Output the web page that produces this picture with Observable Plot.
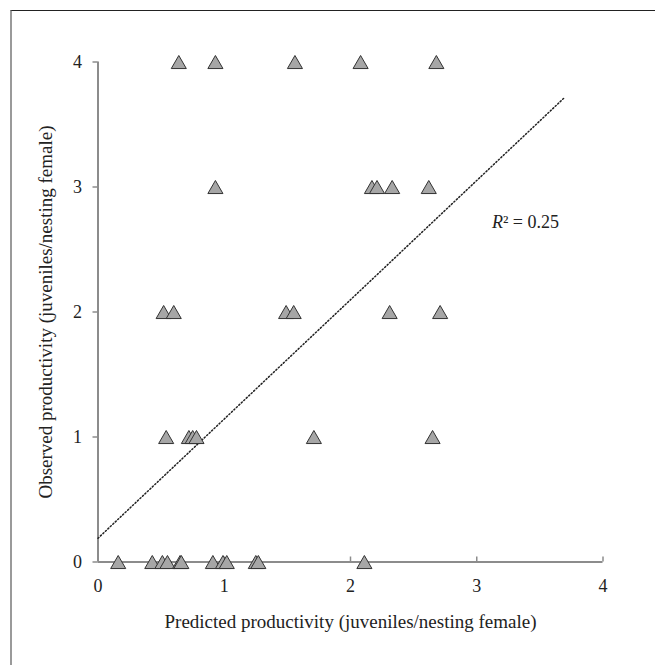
<!DOCTYPE html>
<html>
<head>
<meta charset="utf-8">
<script src="https://cdn.jsdelivr.net/npm/d3@7"></script>
<script src="https://cdn.jsdelivr.net/npm/@observablehq/plot@0.6"></script>
<style>
  html, body { margin: 0; padding: 0; background: #fff; }
  #wrap { position: relative; width: 655px; height: 665px; overflow: hidden; }
  #frame { position: absolute; left: 10px; top: 10px; width: 700px; height: 700px;
           border-top: 1.5px solid #222; border-left: 2px solid #9a9a9a; box-sizing: border-box; }
  #chart { position: absolute; left: 0; top: 0; }
</style>
</head>
<body>
<div id="wrap"><div id="frame"></div><div id="chart"></div></div>
<script>
// Observed productivity levels and the predicted productivity of each site at that level
const obs4 = [0.64, 0.93, 1.56, 2.08, 2.68];
const obs3 = [0.93, 2.17, 2.21, 2.33, 2.62];
const obs2 = [0.52, 0.60, 1.49, 1.55, 2.31, 2.71];
const obs1 = [0.54, 0.72, 0.75, 0.78, 1.71, 2.65];
const obs0 = [0.16, 0.43, 0.51, 0.55, 0.65, 0.66, 0.91, 0.99, 1.02, 1.25, 1.27, 2.11];

// Regression (trend) line endpoints
const lineX = [0, 3.70];
const lineY = [0.19, 3.72];

const xTicks = [0, 1, 2, 3, 4];
const yTicks = [0, 1, 2, 3, 4];

const xTitle = "Predicted productivity (juveniles/nesting female)";
const yTitle = "Observed productivity (juveniles/nesting female)";
const r2Text = "² = 0.25";
const r2Pos = {x: 3.12, y: 2.67};

const points = [
  ...obs0.map(x => ({x, y: 0})),
  ...obs1.map(x => ({x, y: 1})),
  ...obs2.map(x => ({x, y: 2})),
  ...obs3.map(x => ({x, y: 3})),
  ...obs4.map(x => ({x, y: 4}))
];
const trend = lineX.map((x, i) => ({x, y: lineY[i]}));

const W = 655, H = 665, mL = 97.5, mR = 52.5, mT = 61.5, mB = 103.5;
const frameH = H - mT - mB;
const axisGray = "#8c8c8c";
const serif = "'Liberation Serif', 'Times New Roman', serif";

const chart = Plot.plot({
  width: W, height: H,
  marginLeft: mL, marginRight: mR, marginTop: mT, marginBottom: mB,
  style: {fontFamily: serif, fontSize: "18px", color: "#222", background: "transparent"},
  x: {domain: [0, 4]},
  y: {domain: [0, 4]},
  marks: [
    Plot.axisY({ticks: yTicks, tickSize: 5, tickPadding: 11, stroke: axisGray, strokeWidth: 1.5,
                tickFormat: d => String(d), fontFamily: serif, fontSize: 18, label: null}),
    Plot.axisY({ticks: [], label: yTitle, labelAnchor: "center", labelOffset: 60, labelArrow: false,
                fontFamily: serif, fontSize: 19}),
    Plot.axisX({ticks: xTicks, tickSize: 0, tickPadding: 17, tickFormat: d => String(d),
                fontFamily: serif, fontSize: 18, label: null}),
    Plot.axisX({ticks: [], label: xTitle, labelAnchor: "center", labelOffset: 66, labelArrow: false,
                fontFamily: serif, fontSize: 19}),
    Plot.tickX(xTicks.slice(1), {x: d => d, insetTop: frameH - 5, stroke: axisGray, strokeWidth: 1.5}),
    Plot.ruleY([0], {stroke: axisGray, strokeWidth: 2}),
    Plot.ruleX([0], {stroke: axisGray, strokeWidth: 2}),
    Plot.line(trend, {x: "x", y: "y", stroke: "#222", strokeWidth: 1.5, strokeDasharray: "1.2,2.2"}),
    Plot.dot(points, {x: "x", y: "y", symbol: "triangle", r: 5.6, dy: 2.2,
                      fill: "#a6a6a6", stroke: "#333", strokeWidth: 1}),
    Plot.text([r2Pos], {x: "x", y: "y", text: () => "R", fontStyle: "italic", fontFamily: serif, fontSize: 18,
                        textAnchor: "start", lineAnchor: "bottom", fill: "#222"}),
    Plot.text([r2Pos], {x: "x", y: "y", text: () => r2Text, dx: 11, fontFamily: serif, fontSize: 18,
                        textAnchor: "start", lineAnchor: "bottom", fill: "#222"})
  ]
});
document.getElementById("chart").appendChild(chart);
</script>
</body>
</html>
